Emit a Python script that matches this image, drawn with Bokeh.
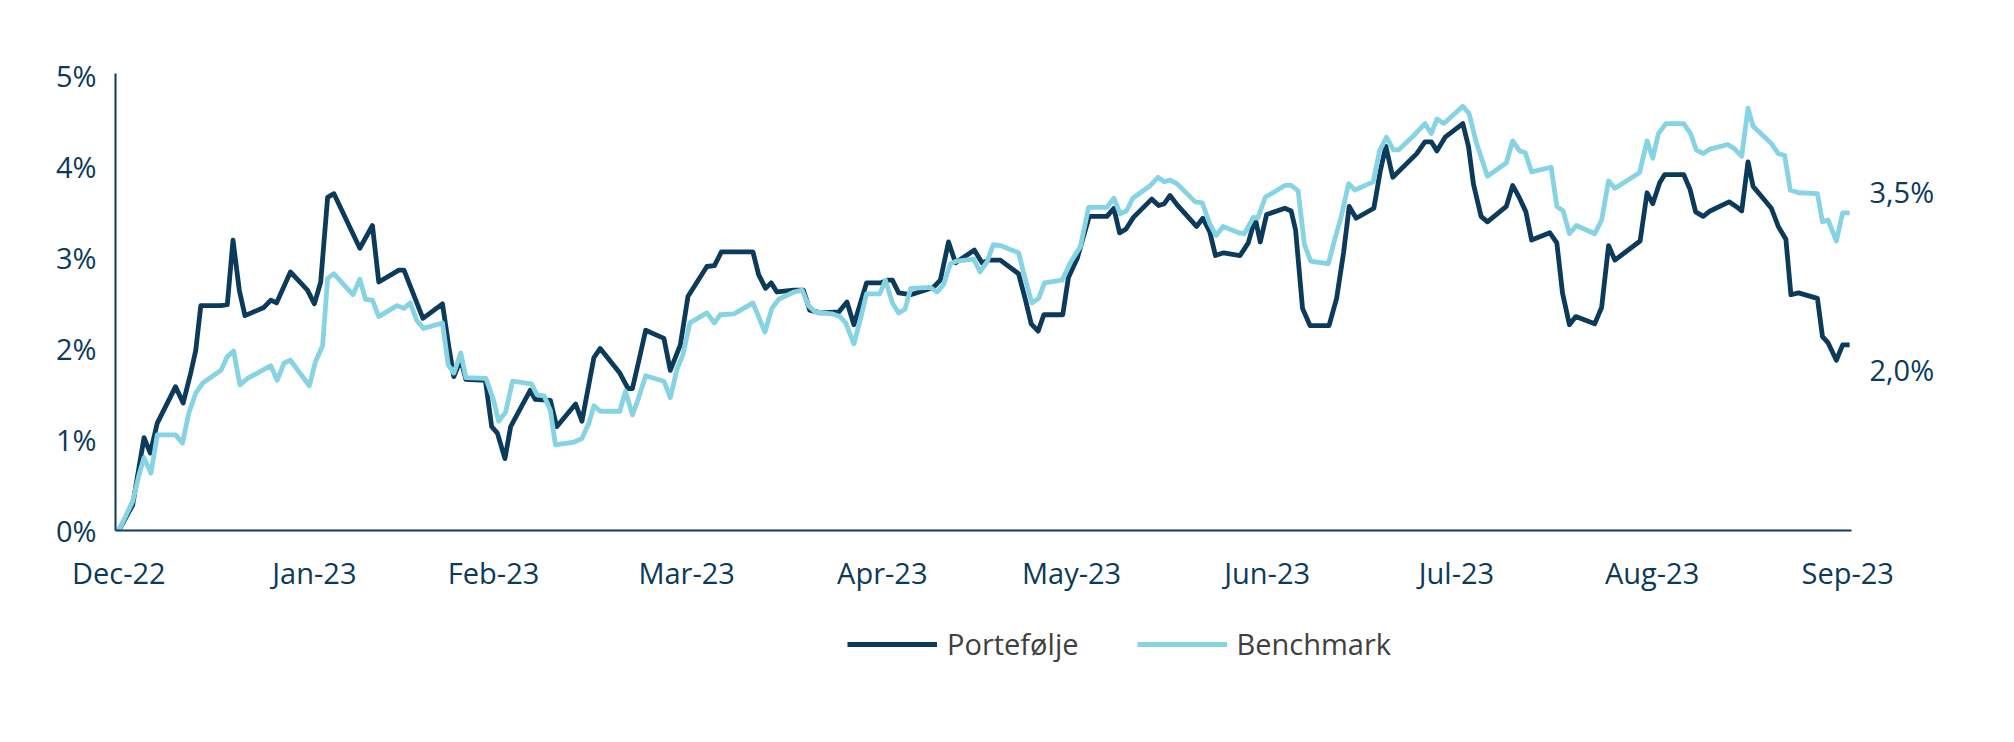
from bokeh.plotting import figure
from bokeh.layouts import column
from bokeh.models import Range1d, FixedTicker, Legend, LegendItem, LinearAxis
from bokeh.embed import file_html
from bokeh.resources import INLINE

# ---- data (days since 2022-12-01, cumulative return in %) ----
port_days = [0, 2.2, 4.0, 5.0, 6.1, 9.0, 10.2, 11.4, 12.2, 13.0, 16.2, 17.2, 18.1, 19.1, 20.0, 23.0, 24.1, 25.0,
             27.2, 29.9, 31.0, 32.0, 33.1, 34.1, 38.2, 40.2, 41.2, 44.4, 45.2, 48.2, 51.3, 52.3, 53.1, 54.2, 55.0,
             58.1, 59.1, 60.0, 61.2, 62.1, 65.2, 66.0,
             68.4, 69.4, 72.4, 73.4, 75.3, 76.3, 79.4, 80.7, 81.4, 82.4, 83.5, 86.4, 87.4, 89.0, 90.2, 93.2, 94.4,
             95.5, 100.5, 101.4, 102.5, 103.4, 104.3, 107.0, 108.5, 109.5, 111.2, 114.1, 115.4, 116.5, 118.5, 120.7,
             121.8, 122.6, 123.6, 125.5, 129.1, 130.2, 131.5, 132.6, 135.6, 136.8,
             137.9, 139.7, 142.6, 143.7, 144.6, 145.7, 146.6, 149.6, 150.5, 151.9, 153.8, 156.6, 157.7, 158.6, 159.6,
             160.8, 163.7, 164.8, 165.7, 166.6, 167.7, 170.8, 171.8, 172.9, 173.8, 175.1, 177.7, 179.0, 180.1, 180.9,
             181.9, 184.8, 185.8, 186.5, 187.6, 188.8, 191.8, 193.0, 194.1, 195.0, 196.1, 198.9, 199.9, 200.8, 201.9,
             205.7, 207.0, 208.0, 208.9, 210.2, 213.0, 213.9, 214.7, 215.9, 216.9, 219.9, 220.9, 222.0, 223.0, 223.9,
             226.8, 227.9, 228.8, 229.9, 230.9, 233.9, 235.0, 236.1, 237.1, 241.1, 242.2, 243.1, 244.2, 245.0, 248.0,
             249.0, 249.9, 251.1, 252.2, 255.2, 256.3, 257.2, 258.2, 259.0, 261.9, 263.0, 264.2, 265.0, 266.2, 269.2,
             270.0, 270.9, 272.2, 273.2, 274.3]
port_vals = [0, 0.28, 1.02, 0.85, 1.18, 1.58, 1.40, 1.73, 1.98, 2.47, 2.47, 2.48, 3.19, 2.64, 2.36, 2.45, 2.53, 2.50,
             2.84, 2.64, 2.49, 2.73, 3.66, 3.70, 3.10, 3.35, 2.73, 2.86, 2.86, 2.33, 2.49, 2.02, 1.69, 1.88, 1.66,
             1.65, 1.14, 1.07, 0.79, 1.14, 1.54, 1.44,
             1.43, 1.14, 1.39, 1.20, 1.90, 2.00, 1.73, 1.56, 1.56, 1.86, 2.20, 2.11, 1.76, 2.04, 2.57, 2.90, 2.91,
             3.06, 3.06, 2.81, 2.66, 2.72, 2.62, 2.64, 2.64, 2.42, 2.39, 2.40, 2.51, 2.26, 2.72, 2.72,
             2.75, 2.75, 2.61, 2.59, 2.67, 2.75, 3.17, 2.94, 3.08, 2.94,
             2.97, 2.97, 2.82, 2.53, 2.27, 2.19, 2.37, 2.37, 2.78, 2.99, 3.45, 3.45, 3.54, 3.27, 3.31,
             3.44, 3.64, 3.57, 3.59, 3.68, 3.58, 3.34, 3.43, 3.28, 3.02, 3.05, 3.02, 3.16, 3.43, 3.17,
             3.47, 3.54, 3.51, 3.30, 2.44, 2.25, 2.25, 2.55, 3.05, 3.56, 3.43, 3.54, 3.94, 4.22, 3.88,
             4.14, 4.27, 4.27, 4.17, 4.32, 4.47, 4.22, 3.80, 3.45, 3.39, 3.56, 3.79, 3.65, 3.50, 3.19,
             3.27, 3.16, 2.61, 2.26, 2.35, 2.27, 2.45, 3.13, 2.97, 3.18, 3.71, 3.59, 3.82, 3.91, 3.91,
             3.75, 3.50, 3.45, 3.51, 3.61, 3.56, 3.51, 4.05, 3.78, 3.54, 3.34, 3.20, 2.59, 2.61, 2.55,
             2.13, 2.06, 1.87, 2.04, 2.04]

bench_days = [0, 2.2, 3.2, 4.0, 5.1, 6.1, 9.0, 10.1, 11.1, 12.2, 13.3, 16.2, 17.2, 18.2, 19.2, 20.4, 24.1, 25.1,
              26.2, 27.2, 30.2, 31.2, 32.3, 33.1, 34.1, 37.1, 38.2, 39.1, 40.2, 41.2, 44.1, 45.2, 46.2, 47.2, 48.3,
              51.3, 52.2, 53.1, 54.2, 55.0, 58.2, 59.4, 60.2, 61.3, 62.4, 65.4, 66.3, 67.4,
              68.4, 69.2, 72.1, 73.4, 74.5, 75.3, 76.3, 79.4, 80.3, 81.4, 82.4, 83.5, 86.4, 87.4, 88.5, 89.4, 90.5,
              93.2, 94.4, 95.3, 97.5, 100.5, 102.4, 103.5, 104.6, 107.0, 108.3, 109.3, 110.4, 113.0, 114.3, 115.2,
              116.5, 117.5, 118.5, 120.6, 121.5, 122.6, 123.6, 124.6, 125.5, 128.6, 129.7, 130.7, 131.8, 132.8,
              135.5, 136.5,
              137.6, 138.6, 139.7, 142.6, 143.7, 144.7, 145.8, 146.7, 149.5, 150.8, 152.4, 153.7, 156.6, 157.7,
              158.7, 159.7, 160.7, 163.5, 164.7, 165.7, 166.6, 167.7, 170.6, 171.7, 172.9, 173.9, 175.0, 177.5,
              178.4, 179.8, 180.5, 181.7, 184.8, 185.8, 186.9, 187.9, 188.9, 191.7, 192.6, 193.7, 194.9, 195.9,
              198.8, 199.8, 200.9, 202.0, 202.8,
              205.4, 207.0, 208.0, 208.9, 210.0, 213.0, 214.0, 215.1, 216.9, 219.9, 220.9, 222.0, 222.9, 223.9,
              227.0, 227.9, 228.9, 229.9, 231.0, 233.9, 235.0, 236.1, 237.1, 241.0, 242.2, 243.1, 244.0, 245.2,
              248.0, 249.1, 250.0, 251.1, 252.2, 255.0, 256.1, 257.2, 258.2, 259.0, 261.9, 263.0, 264.0, 264.9,
              266.2, 269.2, 270.0, 270.9, 272.2, 273.2, 274.3]
bench_vals = [0, 0.32, 0.61, 0.80, 0.63, 1.05, 1.05, 0.96, 1.29, 1.51, 1.62, 1.76, 1.91, 1.97, 1.60, 1.67, 1.81, 1.65,
              1.84, 1.87, 1.59, 1.86, 2.03, 2.77, 2.82, 2.59, 2.76, 2.54, 2.53, 2.35, 2.47, 2.44, 2.50, 2.31, 2.22,
              2.28, 1.82, 1.73, 1.95, 1.68, 1.67, 1.43, 1.20, 1.30, 1.64, 1.61, 1.49, 1.48,
              1.32, 0.94, 0.97, 1.01, 1.18, 1.37, 1.31, 1.31, 1.53, 1.27, 1.46, 1.70, 1.64, 1.46, 1.78, 1.93, 2.28,
              2.39, 2.28, 2.37, 2.38, 2.50, 2.18, 2.44, 2.54, 2.62, 2.64, 2.47, 2.40, 2.38, 2.35, 2.28,
              2.05, 2.31, 2.60, 2.60, 2.75, 2.50, 2.39, 2.43, 2.66, 2.67, 2.62, 2.70, 2.93, 2.96,
              2.98, 2.84,
              2.95, 3.14, 3.13, 3.05, 2.75, 2.50, 2.55, 2.72, 2.75, 2.94, 3.12, 3.55, 3.55, 3.65,
              3.48, 3.51, 3.65, 3.79, 3.88, 3.83, 3.85, 3.81, 3.61, 3.60, 3.37, 3.24, 3.34, 3.27,
              3.26, 3.44, 3.43, 3.66, 3.79, 3.79, 3.73, 3.14, 2.96, 2.93, 3.17, 3.44, 3.81, 3.74,
              3.83, 4.17, 4.32, 4.18, 4.18,
              4.35, 4.47, 4.36, 4.52, 4.47, 4.66, 4.58, 4.27, 3.89, 4.04, 4.28, 4.17, 4.15, 3.94,
              3.99, 3.56, 3.51, 3.26, 3.35, 3.26, 3.41, 3.84, 3.76, 3.93, 4.28, 4.09, 4.36, 4.47,
              4.47, 4.36, 4.18, 4.14, 4.19, 4.24, 4.19, 4.11, 4.64, 4.44, 4.25, 4.14, 4.12, 3.74,
              3.71, 3.70, 3.39, 3.41, 3.18, 3.49, 3.49]

tick_days = [0, 31, 59.4, 90, 121, 151, 182, 212, 243, 274]
tick_labels = ["Dec-22", "Jan-23", "Feb-23", "Mar-23", "Apr-23", "May-23", "Jun-23", "Jul-23", "Aug-23", "Sep-23"]
y_ticks = [0, 1, 2, 3, 4, 5]
y_labels = ["0%", "1%", "2%", "3%", "4%", "5%"]
series_names = ["Portefølje", "Benchmark"]

# ---- styles ----
NAVY = "#0b3a5b"
LIGHT = "#86d3e3"
LEGEND_TEXT = "#404040"
FONT = "Open Sans"
FSIZE = "29px"
LINE_W = 4.8
END_LABEL_SHIFT = [-0.27, 0.23]   # vertical placement of end labels relative to last point (portfolio, benchmark)
W = 1998

p = figure(width=W, height=600, output_backend="svg", toolbar_location=None,
           x_range=Range1d(-0.52, 274.6), y_range=Range1d(0, 5.02),
           min_border_left=115, min_border_right=147, min_border_top=73, min_border_bottom=70)
p.outline_line_color = None
p.xgrid.visible = False
p.ygrid.visible = False
p.background_fill_color = "white"
p.border_fill_color = "white"


def style_axis(ax, standoff):
    ax.axis_line_color = NAVY
    ax.axis_line_width = 2
    ax.major_tick_line_color = None
    ax.minor_tick_line_color = None
    ax.major_tick_out = 0
    ax.major_tick_in = 0
    ax.minor_tick_out = 0
    ax.minor_tick_in = 0
    ax.major_label_text_font = FONT
    ax.major_label_text_font_size = FSIZE
    ax.major_label_text_color = NAVY
    ax.major_label_standoff = standoff


style_axis(p.xaxis[0], 22)
style_axis(p.yaxis[0], 19)
p.xaxis.ticker = FixedTicker(ticks=tick_days)
p.xaxis.major_label_overrides = {d: l for d, l in zip(tick_days, tick_labels)}
p.yaxis.ticker = FixedTicker(ticks=y_ticks)
p.yaxis.major_label_overrides = {t: l for t, l in zip(y_ticks, y_labels)}

r_port = p.line(port_days, port_vals, line_width=LINE_W, line_color=NAVY, line_join="round")
r_bench = p.line(bench_days, bench_vals, line_width=LINE_W, line_color=LIGHT, line_join="round")


def fmt(v):
    return f"{v:.1f}%".replace(".", ",")


# end-of-series value labels, shown on a right-hand axis without line
last_vals = [port_vals[-1], bench_vals[-1]]
end_pos = [v + s for v, s in zip(last_vals, END_LABEL_SHIFT)]
end_axis = LinearAxis(ticker=FixedTicker(ticks=end_pos))
style_axis(end_axis, 18)
end_axis.axis_line_color = None
end_axis.major_label_overrides = {pos: fmt(v) for pos, v in zip(end_pos, last_vals)}
p.add_layout(end_axis, "right")

# ---- legend strip below the chart (frame is aligned with the chart frame) ----
lg = figure(width=W, height=100, output_backend="svg", toolbar_location=None,
            x_range=Range1d(0, 1), y_range=Range1d(0, 1),
            x_axis_type=None, y_axis_type=None,
            min_border_left=115, min_border_right=147, min_border_top=0, min_border_bottom=0)
lg.outline_line_color = None
lg.xgrid.visible = False
lg.ygrid.visible = False
lg.background_fill_color = "white"
lg.border_fill_color = "white"
k_port = lg.line(port_days, port_vals, line_width=LINE_W, line_color=NAVY, visible=False)
k_bench = lg.line(bench_days, bench_vals, line_width=LINE_W, line_color=LIGHT, visible=False)

legend = Legend(items=[LegendItem(label=series_names[0], renderers=[k_port]),
                       LegendItem(label=series_names[1], renderers=[k_bench])],
                orientation="horizontal", location=(732, 37))
legend.border_line_color = None
legend.background_fill_alpha = 0
legend.inactive_fill_alpha = 0
legend.padding = 0
legend.margin = 0
legend.spacing = 58
legend.glyph_width = 90
legend.glyph_height = 36
legend.label_height = 36
legend.label_standoff = 10
legend.label_text_font = FONT
legend.label_text_font_size = FSIZE
legend.label_text_color = LEGEND_TEXT
lg.add_layout(legend)

open("out.html", "w").write(file_html(column(p, lg), INLINE))
